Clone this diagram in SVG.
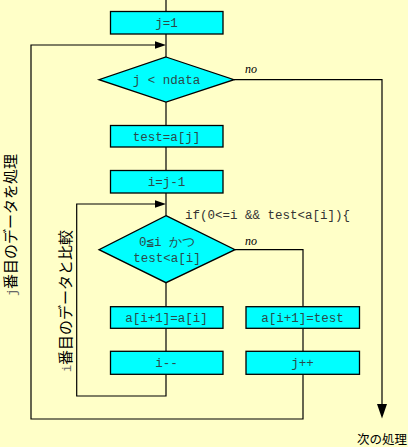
<svg xmlns="http://www.w3.org/2000/svg" width="408" height="447" viewBox="0 0 408 447">
<style>
.bg{fill:#ffffc8}
.box{fill:#00ffff;stroke:#000;stroke-width:1.3}
.code{font-family:"Liberation Mono","DejaVu Sans Mono",monospace;font-size:12.5px;fill:#2a4a4a;text-anchor:middle}
.code2{font-family:"Liberation Mono","DejaVu Sans Mono",monospace;font-size:12.5px;fill:#333}
.no{font-family:"Liberation Serif",serif;font-style:italic;font-size:12px;fill:#000}
.jp{font-family:"Liberation Sans","Noto Sans CJK JP",sans-serif;font-size:15px;fill:#000}
.var{font-family:"Liberation Mono",monospace;font-size:12px;fill:#666}
.line{fill:none;stroke:#000;stroke-width:1.2}
.head{fill:#000}
</style>
<rect class="bg" x="0" y="0" width="408" height="447"/>
<g id="connectors">
<path class="line" d="M166,0 V11.5"/>
<path class="line" d="M166,34 V57"/>
<path class="line" d="M166,102 V125.5"/>
<path class="line" d="M166,147 V170.5"/>
<path class="line" d="M166,193 V215.7"/>
<path class="line" d="M166,282.7 V306.7"/>
<path class="line" d="M166,328.3 V351.3"/>
<path class="line" d="M166,374.3 V396 H76.7 V204 H160"/>
<polygon class="head" points="155,200.2 166,204 155,207.8"/>
<path class="line" d="M303,374.3 V419 H31 V45 H160"/>
<polygon class="head" points="155,41.2 166,45 155,48.8"/>
<path class="line" d="M234,79.7 H382 V408"/>
<polygon class="head" points="377,404 387,404 382,418.5"/>
<path class="line" d="M235,249.7 H303 V306.7"/>
<path class="line" d="M303,328.3 V351.3"/>
<text class="no" x="245" y="73">no</text>
<text class="no" x="245" y="245">no</text>
<text class="code2" x="185" y="219">if(0&lt;=i &amp;&amp; test&lt;a[i]){</text>
</g>
<g id="n-j1">
<rect class="box" x="110.5" y="11.5" width="112.5" height="22.5"/>
<text class="code" x="166.5" y="27">j=1</text>
</g>
<g id="n-cond1">
<polygon class="box" points="166,57 234,79.7 166,102 99,79.7"/>
<text class="code" x="166.5" y="84">j &lt; ndata</text>
</g>
<g id="n-test">
<rect class="box" x="110.5" y="125.5" width="112.5" height="21.5"/>
<text class="code" x="166.5" y="140.5">test=a[j]</text>
</g>
<g id="n-i">
<rect class="box" x="110.5" y="170.5" width="112.5" height="22.5"/>
<text class="code" x="166.5" y="186">i=j-1</text>
</g>
<g id="n-cond2">
<polygon class="box" points="166,215.7 235,249.7 166,282.7 99,249.7"/>
<text class="code" x="167" y="246">0≦i かつ</text>
<text class="code" x="167" y="262">test&lt;a[i]</text>
</g>
<g id="n-shift">
<rect class="box" x="110.5" y="306.7" width="112.5" height="21.6"/>
<text class="code" x="166.5" y="322">a[i+1]=a[i]</text>
</g>
<g id="n-dec">
<rect class="box" x="110.5" y="351.3" width="112.5" height="23"/>
<text class="code" x="166.5" y="367">i--</text>
</g>
<g id="n-store">
<rect class="box" x="246" y="306.7" width="113.5" height="21.6"/>
<text class="code" x="302.5" y="322">a[i+1]=test</text>
</g>
<g id="n-inc">
<rect class="box" x="246" y="351.3" width="113.5" height="23"/>
<text class="code" x="302.5" y="367">j++</text>
</g>
<g id="labels">
<text class="jp" transform="translate(16,225) rotate(-90)" text-anchor="middle"><tspan class="var">j</tspan>番目のデータを処理</text>
<text class="jp" transform="translate(71,301) rotate(-90)" text-anchor="middle"><tspan class="var">i</tspan>番目のデータと比較</text>
<text class="jp" x="407" y="444" text-anchor="end" style="font-size:12.5px">次の処理</text>
</g>
</svg>
